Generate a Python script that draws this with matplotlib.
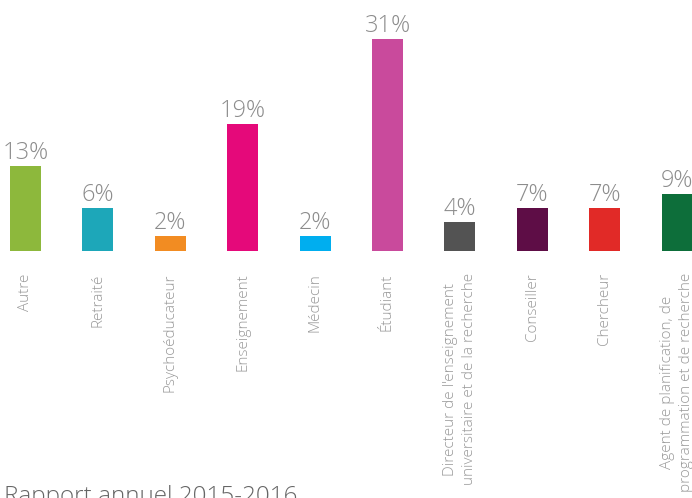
import matplotlib.pyplot as plt

# categories and values
categories = ["Autre", "Retraité", "Psychoéducateur", "Enseignement", "Médecin",
              "Étudiant",
              "Directeur de l'enseignement\nuniversitaire et de la recherche",
              "Conseiller", "Chercheur",
              "Agent de planification, de\nprogrammation et de recherche"]
values = [12.4, 6.3, 2.2, 18.6, 2.2, 31.0, 4.2, 6.3, 6.3, 8.3]
pct_labels = ["13%", "6%", "2%", "19%", "2%", "31%", "4%", "7%", "7%", "9%"]
colors = ["#8DB83C", "#1DA7B9", "#F28C22", "#E5097A", "#00AEEF",
          "#C94A9C", "#535353", "#5E0D46", "#E12A27", "#0D6E3A"]

plt.rcParams['font.family'] = ['Open Sans', 'DejaVu Sans']

W, H = 692, 498
fig = plt.figure(figsize=(W / 100, H / 100), dpi=100)
base = 251  # baseline pixel from top
ax = fig.add_axes([0, (H - base) / H, 1, base / H])

step = 72.4
x0 = 25.5
ax.set_xlim(-x0 / step, (W - x0) / step)
ax.set_ylim(0, 31.0 * base / 212)

xs = list(range(len(categories)))
bars = ax.bar(xs, values, width=0.43, color=colors)

for x, v, lab in zip(xs, values, pct_labels):
    ax.annotate(lab, (x, v), xytext=(0, 5), textcoords="offset points",
                ha="center", va="baseline", fontsize=17, fontweight="light",
                color="#8c8c8c")

ax.set_xticks(xs)
ax.set_xticklabels(categories, rotation=90, fontsize=11, fontweight="light",
                   color="#9a9a9a", linespacing=1.3)
ax.tick_params(axis="x", length=0, pad=16)
ax.set_yticks([])
for s in ax.spines.values():
    s.set_visible(False)

fig.text(297 / W, -5 / H, "Rapport annuel 2015-2016", ha="right", va="baseline",
         fontsize=17.5, fontweight="light", color="#666666")

fig.savefig("out.png", dpi=100)
